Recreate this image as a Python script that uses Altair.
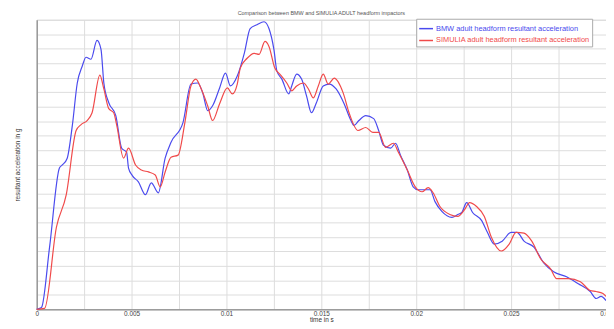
import altair as alt
import pandas as pd

BMW = "BMW adult headform resultant acceleration"
SIM = "SIMULIA adult headform resultant acceleration"

bmw_t_ms = [0, 0.16, 0.26, 0.68, 1.20, 1.35, 1.61, 1.88, 2.14, 2.40, 2.60, 2.86, 3.18, 3.39, 3.54, 3.80,
            4.17, 4.48, 4.74, 4.84, 5.05, 5.36, 5.73, 6.04, 6.41, 6.77, 7.08, 7.71, 8.13, 8.49, 8.75, 9.01,
            9.27, 9.64, 9.95, 10.21, 10.57, 10.94, 11.25, 11.61, 11.98, 12.24, 12.50, 12.66, 12.92, 13.28,
            13.44, 13.70, 13.96, 14.22, 14.48, 14.74, 15.10, 15.42, 15.78, 16.20, 16.56, 16.72, 16.98, 17.34,
            17.76, 18.02, 18.28, 18.65, 18.91, 19.17, 19.53, 19.84, 20.10, 20.47, 20.73, 20.99, 21.35, 21.88,
            22.19, 22.40, 22.66, 22.97, 23.44, 23.75, 24.11, 24.53, 25.00, 25.31, 25.68, 26.20, 26.72, 27.24,
            27.92, 28.54, 29.17, 29.48, 29.74, 30.00]
bmw_acc = [0, 0.7, 1.4, 43.0, 97.6, 99.7, 104.4, 127.0, 156.3, 167.9, 174.1, 172.7, 185.7, 179.5, 156.3, 142.7,
           133.8, 111.3, 108.5, 97.6, 92.2, 88.1, 79.2, 87.4, 80.5, 104.4, 115.4, 129.0, 155.6, 156.3, 149.5, 137.2,
           140.6, 152.9, 163.1, 154.3, 161.1, 176.8, 193.9, 196.6, 198.6, 193.9, 179.5, 164.5, 159.0, 148.8,
           154.3, 162.5, 159.0, 147.4, 135.8, 142.7, 154.3, 155.6, 152.2, 142.0, 130.4, 127.0, 130.4, 133.8,
           131.7, 123.5, 113.3, 111.3, 114.7, 106.5, 96.2, 84.6, 82.6, 82.6, 82.6, 74.4, 67.6, 63.5,
           65.5, 66.9, 73.7, 66.9, 61.4, 53.2, 45.1, 47.1, 53.2, 53.2, 47.1, 43.0, 32.1, 25.9,
           22.5, 17.7, 12.3, 7.5, 8.9, 6.1]

sim_t_ms = [0, 0.42, 1.04, 1.56, 2.08, 2.34, 2.66, 2.92, 3.33, 3.54, 3.80, 4.06, 4.22, 4.58, 4.84, 5.21,
            5.52, 5.89, 6.25, 6.51, 6.77, 7.08, 7.45, 7.81, 8.13, 8.39, 8.65, 9.01, 9.27, 9.64, 10.05, 10.31,
            10.57, 10.73, 11.09, 11.46, 11.72, 12.03, 12.24, 12.55, 12.81, 13.18, 13.44, 13.70, 14.06, 14.32,
            14.58, 14.84, 15.10, 15.36, 15.68, 16.15, 16.46, 16.93, 17.34, 17.71, 18.02, 18.39, 18.80, 19.06,
            19.53, 19.95, 20.31, 20.63, 20.89, 21.25, 21.77, 22.19, 22.55, 22.81, 23.18, 23.59, 23.96, 24.48,
            24.90, 25.26, 25.68, 26.09, 26.56, 27.08, 27.40, 28.02, 28.65, 29.17, 29.48, 29.84, 30.00]
sim_acc = [0, 0.7, 56.7, 79.2, 123.5, 127.6, 130.4, 135.8, 161.8, 152.2, 138.6, 135.8, 127.0, 104.4, 111.3, 99.7,
           96.2, 94.9, 92.8, 84.6, 94.9, 105.1, 106.5, 129.0, 154.3, 159.0, 152.9, 140.6, 130.4, 142.0, 152.9, 148.8,
           155.6, 166.6, 173.4, 176.8, 176.1, 185.0, 181.6, 166.6, 162.5, 156.3, 150.9, 154.3, 156.3, 152.2,
           146.1, 154.3, 162.5, 155.6, 159.7, 149.5, 135.8, 123.5, 125.6, 122.2, 122.2, 111.9, 114.7, 108.5,
           96.2, 84.6, 81.2, 84.0, 80.5, 71.0, 65.5, 64.2, 68.9, 73.7, 71.0, 64.2, 49.8, 40.3,
           45.1, 53.2, 52.6, 47.1, 34.8, 28.0, 21.2, 21.2, 19.1, 13.0, 12.3, 10.9, 8.9]

x_ticks = [0, 0.005, 0.01, 0.015, 0.02, 0.025, 0.03]
x_grid = [i * 0.0025 for i in range(13)]
y_grid = [i * 10 for i in range(21)]

df = pd.concat([
    pd.DataFrame({"t": [v / 1000 for v in bmw_t_ms], "acc": bmw_acc, "series": BMW}),
    pd.DataFrame({"t": [v / 1000 for v in sim_t_ms], "acc": sim_acc, "series": SIM}),
])

BLUE = "#4a4aee"
RED = "#f04a4a"

chart = alt.Chart(df).mark_line(strokeWidth=1.2, interpolate="monotone").encode(
    x=alt.X("t:Q", scale=alt.Scale(domain=[0, 0.03], nice=False),
            axis=alt.Axis(title="time in s", values=x_grid,
                          labelExpr="indexof([0,0.005,0.01,0.015,0.02,0.025,0.03], round(datum.value*10000)/10000) >= 0 ? datum.label : ''",
                          format="~g", labelFontSize=6.5, labelColor="#444", titleFontSize=6.5,
                          titleFontWeight="normal", titleColor="#333", titlePadding=0, labelPadding=1,
                          tickSize=0, domainColor="#777", gridColor="#dddddd", labelFlush=False)),
    y=alt.Y("acc:Q", scale=alt.Scale(domain=[0, 200], nice=False),
            axis=alt.Axis(title="resultant acceleration in g", values=y_grid, labels=False,
                          ticks=False, titleFontSize=6.5, titleFontWeight="normal", titleColor="#333",
                          titlePadding=16, domainColor="#777", gridColor="#dddddd")),
    color=alt.Color("series:N", sort=[BMW, SIM],
                    scale=alt.Scale(domain=[BMW, SIM], range=[BLUE, RED]),
                    legend=alt.Legend(title=None, orient="none", legendX=384, legendY=-1,
                                      symbolType="stroke", symbolSize=196, symbolStrokeWidth=1.5,
                                      labelFontSize=7.5, labelLimit=300, labelOffset=2,
                                      labelColor={"expr": f"datum.label == '{BMW}' ? '{BLUE}' : '{RED}'"},
                                      fillColor="white", strokeColor="#aaaaaa", padding=2,
                                      rowPadding=-4)),
).properties(
    width=576, height=293,
    title=alt.TitleParams("Comparison between BMW and SIMULIA ADULT headform impactors",
                          fontSize=5.5, fontWeight="normal", color="#555", offset=2),
    autosize=alt.AutoSizeParams(type="none"),
    padding={"left": 29, "top": 10, "right": 0, "bottom": 18},
).configure_view(stroke="#999999").configure(font="Liberation Sans")

chart.save("out.html", embed_options={"renderer": "svg", "actions": False})
